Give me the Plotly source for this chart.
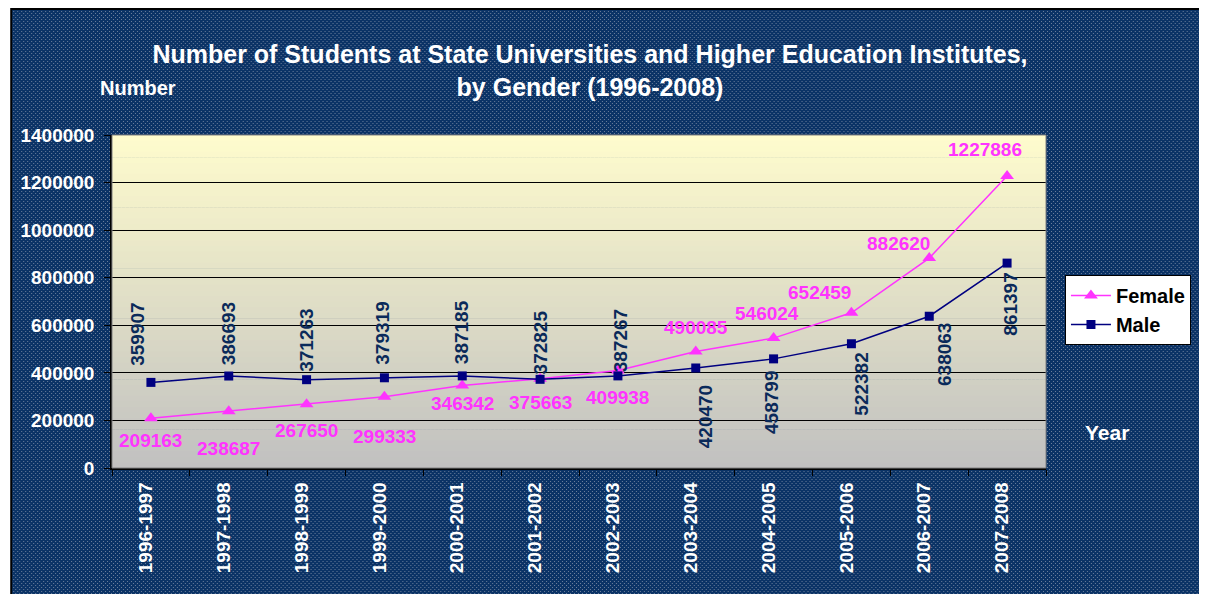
import base64
import plotly.graph_objects as go

years = ["1996-1997", "1997-1998", "1998-1999", "1999-2000", "2000-2001", "2001-2002",
         "2002-2003", "2003-2004", "2004-2005", "2005-2006", "2006-2007", "2007-2008"]
female = [209163, 238687, 267650, 299333, 346342, 375663, 409938, 490085, 546024, 652459, 882620, 1227886]
male = [359907, 386693, 371263, 379319, 387185, 372825, 387267, 420470, 458799, 522382, 638063, 861397]

# label offsets (pixels)
fem_xs = [0, 0, 0, 0, 0, 0, 0, 0, -7, -32, -31, -22]
fem_ys = [-22, -37, -26, -40, -18, -24, -27, 24, 25, 20, 15, 26]
male_xs = [-13, 0, 0, -2, 0, 0, 2, 10, -2, 10, 15, 4]
male_ys = [15, 9, 6, 11, 10, 3, 2, -15, -10, -7, -5, -8]

FEM_C = "#ff33ff"
MALE_C = "#000080"
MALE_TXT = "#0a2a5a"
FONT = "Liberation Sans"

OFF = 8  # page body margin
FIG_W, FIG_H = 1207 - OFF, 594 - OFF
# plot area in page pixels
L, R, T, B = 110, 1046, 135, 468
W, H = R - L, B - T
def px(p):
    return (p - L) / W
def py(q):
    return (B - q) / H

fig = go.Figure()
fig.add_trace(go.Scatter(x=years, y=female, name="Female", mode="lines+markers",
                         line=dict(color=FEM_C, width=1.5),
                         marker=dict(symbol="triangle-up", size=12, color=FEM_C)))
fig.add_trace(go.Scatter(x=years, y=male, name="Male", mode="lines+markers",
                         line=dict(color=MALE_C, width=1.5),
                         marker=dict(symbol="square", size=9, color=MALE_C)))

ann = []
for i, (yr, v) in enumerate(zip(years, female)):
    ann.append(dict(x=yr, y=v, text=str(v), showarrow=False, xshift=fem_xs[i], yshift=fem_ys[i],
                    font=dict(family=FONT, size=19, color=FEM_C, weight="bold")))
for i, (yr, v) in enumerate(zip(years, male)):
    ann.append(dict(x=yr, y=v, text=str(v), showarrow=False, textangle=-90,
                    xshift=male_xs[i], yshift=male_ys[i],
                    yanchor="bottom" if male_ys[i] > 0 else "top",
                    font=dict(family=FONT, size=19, color=MALE_TXT, weight="bold")))

ann.append(dict(xref="paper", yref="paper", x=px(136), y=py(88), text="<b>Number</b>", showarrow=False,
                xanchor="center", yanchor="middle",
                font=dict(family=FONT, size=20, color="white")))
ann.append(dict(xref="paper", yref="paper", x=px(1107), y=py(432), text="<b>Year</b>", showarrow=False,
                xanchor="center", yanchor="middle",
                font=dict(family=FONT, size=21, color="white")))

shapes = []
n = 60
top = (255, 252, 205)
bot = (192, 192, 192)
for k in range(n):
    t = (k + 0.5) / n
    c = tuple(int(round(top[j] + (bot[j] - top[j]) * t)) for j in range(3))
    shapes.append(dict(type="rect", xref="x domain", yref="y domain", x0=0, x1=1,
                       y0=1 - (k + 1) / n - 0.002, y1=1 - k / n, layer="below",
                       line=dict(width=0), fillcolor="rgb(%d,%d,%d)" % c))
shapes.append(dict(type="rect", xref="x domain", yref="y domain", x0=0, x1=1, y0=0, y1=1,
                   layer="above", line=dict(color="#808080", width=1), fillcolor="rgba(0,0,0,0)"))
# frame (page pixels)
FX0, FX1, FY0, FY1 = 9, 1201, 9, 600
shapes.append(dict(type="rect", xref="paper", yref="paper", x0=px(FX0), x1=px(FX1), y0=py(FY1), y1=py(FY0),
                   layer="below", line=dict(color="black", width=2), fillcolor="rgba(0,0,0,0)"))

fw, fh = FX1 - FX0, FY1 - FY0
svg = ("<svg xmlns='http://www.w3.org/2000/svg' width='%d' height='%d'>"
       "<defs><pattern id='p' width='4' height='4' patternUnits='userSpaceOnUse'>"
       "<rect width='4' height='4' fill='#0b3366'/>"
       "<rect x='0' y='0' width='1' height='1' fill='#6b7f9c'/>"
       "<rect x='2' y='2' width='1' height='1' fill='#6b7f9c'/>"
       "</pattern></defs><rect width='100%%' height='100%%' fill='url(#p)'/></svg>") % (fw, fh)
src = "data:image/svg+xml;base64," + base64.b64encode(svg.encode()).decode()

fig.update_layout(
    width=FIG_W, height=FIG_H,
    margin=dict(l=L - OFF, r=1207 - R, t=T - OFF, b=594 - B),
    paper_bgcolor="white", plot_bgcolor="rgba(0,0,0,0)",
    title=dict(text="<b>Number of Students at State Universities and Higher Education Institutes,<br>by Gender (1996-2008)</b>",
               x=(590 - OFF) / FIG_W, xanchor="center", y=1 - (63 - OFF) / FIG_H, yanchor="middle",
               font=dict(family=FONT, size=25, color="white")),
    showlegend=True,
    legend=dict(x=px(1065), y=py(275), xanchor="left", yanchor="top",
                bgcolor="white", bordercolor="black", borderwidth=1,
                font=dict(family=FONT, size=20, color="black", weight="bold"),
                tracegroupgap=0, itemwidth=40),
    xaxis=dict(type="category", tickangle=-90, showgrid=False, showline=True, linecolor="black",
               linewidth=1.5, ticks="outside", tickson="boundaries", ticklen=6, tickcolor="black",
               ticklabelstandoff=5, ticklabelshift=-5,
               tickfont=dict(family=FONT, size=19, color="white", weight="bold"), range=[-0.5, 11.5]),
    yaxis=dict(range=[0, 1400000], dtick=200000, showgrid=True, gridcolor="black", gridwidth=1.2,
               showline=True, linecolor="black", linewidth=1.5, ticks="outside", ticklen=6,
               ticklabelstandoff=6,
               tickcolor="black", tickformat="d", zeroline=False,
               tickfont=dict(family=FONT, size=19, color="white", weight="bold")),
    annotations=ann, shapes=shapes,
    images=[dict(source=src, xref="paper", yref="paper", x=px(FX0), y=py(FY0), sizex=fw / W, sizey=fh / H,
                 xanchor="left", yanchor="top", sizing="stretch", layer="below")],
)
fig.write_html("out.html")
